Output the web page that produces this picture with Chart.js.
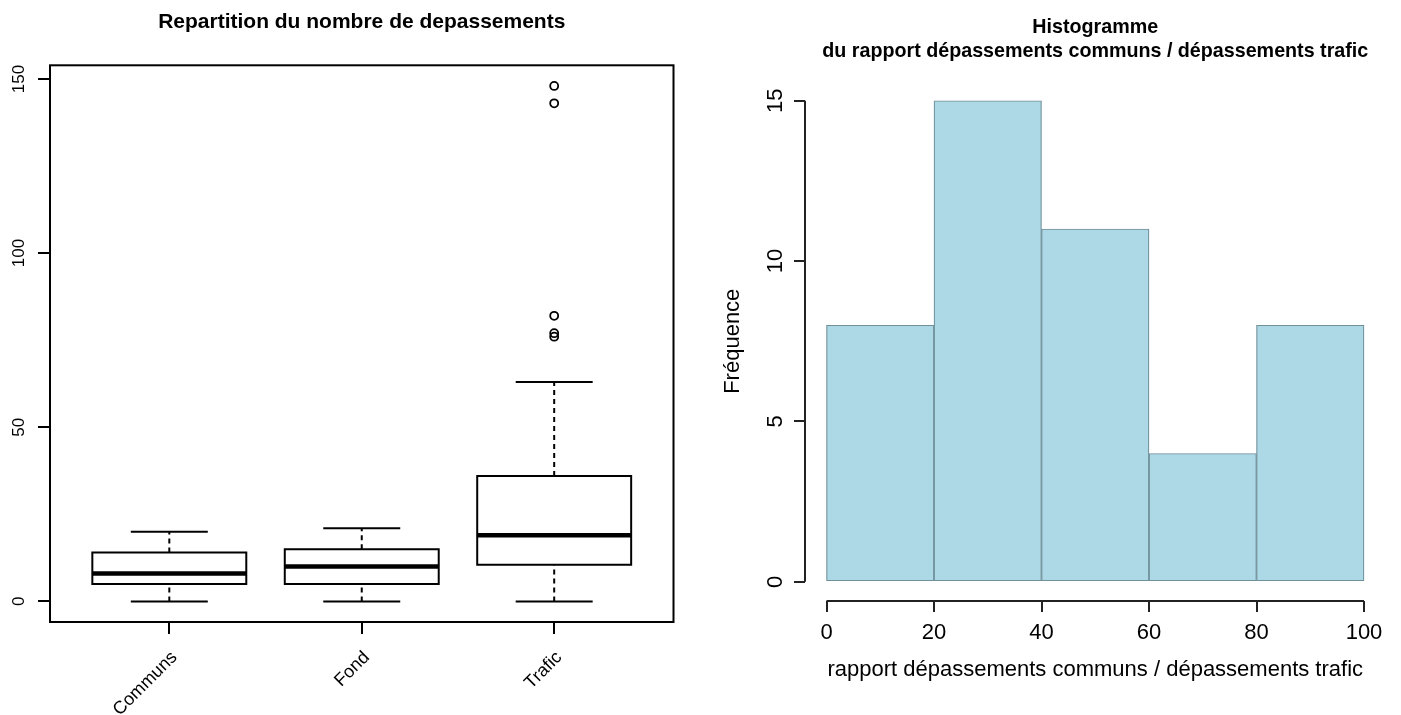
<!DOCTYPE html>
<html>
<head>
<meta charset="utf-8">
<title>Depassements</title>
<script src="https://cdn.jsdelivr.net/npm/chart.js@4.4.0/dist/chart.umd.min.js"></script>
<style>
  html, body { margin: 0; padding: 0; background: #fff; }
  #wrap { position: relative; width: 1401px; height: 715px; overflow: hidden; }
  canvas { position: absolute; top: 0; }
  #boxCanvas { left: 0; }
  #histCanvas { left: 700px; }
</style>
</head>
<body>
<div id="wrap">
  <canvas id="boxCanvas" width="700" height="715"></canvas>
  <canvas id="histCanvas" width="701" height="715"></canvas>
</div>
<script>
// left panel: boxplot summaries
const groups = ['Communs', 'Fond', 'Trafic'];
const whiskerLow = [0, 0, 0];
const q1 = [5, 5, 10.5];
const medians = [8, 10, 19];
const q3 = [14, 15, 36];
const whiskerHigh = [20, 21, 63];
const outliers = [[], [], [76, 77, 82, 143, 148]];
const boxTicks = [0, 50, 100, 150];

// right panel: histogram
const breaks = [0, 20, 40, 60, 80, 100];
const counts = [8, 15, 11, 4, 8];
const histTicks = [0, 5, 10, 15];

Chart.defaults.font.family = '"Liberation Sans", Arial, Helvetica, sans-serif';
Chart.defaults.color = '#000';

// R style range: data range + 4% each side
function rRange(lo, hi) {
  const d = (hi - lo) * 0.04;
  return [lo - d, hi + d];
}

const allBoxValues = whiskerLow.concat(whiskerHigh, outliers.flat());
const [boxYMin, boxYMax] = rRange(Math.min(...allBoxValues), Math.max(...allBoxValues));
const [boxXMin, boxXMax] = rRange(0.5, groups.length + 0.5);
const [histXMin, histXMax] = rRange(breaks[0], breaks[breaks.length - 1]);
const [histYMin, histYMax] = rRange(0, Math.max(...counts));

// boxplot drawn as line segments on a scatter chart
const boxDatasets = [];
const seg = (pts, extra) => Object.assign({
  data: pts, showLine: true, borderColor: '#000', borderWidth: 2,
  pointRadius: 0, fill: false, tension: 0, borderCapStyle: 'square', borderJoinStyle: 'miter'
}, extra);

groups.forEach((g, i) => {
  const x = i + 1;
  const hw = 0.4;   // box half width
  const cw = 0.2;   // staple half width
  boxDatasets.push(seg([{x: x, y: whiskerLow[i]}, {x: x, y: q1[i]}], {borderDash: [5, 4], borderCapStyle: 'butt'}));
  boxDatasets.push(seg([{x: x, y: q3[i]}, {x: x, y: whiskerHigh[i]}], {borderDash: [5, 4], borderCapStyle: 'butt'}));
  boxDatasets.push(seg([{x: x - cw, y: whiskerLow[i]}, {x: x + cw, y: whiskerLow[i]}], {borderCapStyle: 'butt'}));
  boxDatasets.push(seg([{x: x - cw, y: whiskerHigh[i]}, {x: x + cw, y: whiskerHigh[i]}], {borderCapStyle: 'butt'}));
  boxDatasets.push(seg([
    {x: x - hw, y: q1[i]}, {x: x + hw, y: q1[i]}, {x: x + hw, y: q3[i]},
    {x: x - hw, y: q3[i]}, {x: x - hw, y: q1[i]}
  ]));
  boxDatasets.push(seg([{x: x - hw, y: medians[i]}, {x: x + hw, y: medians[i]}], {borderWidth: 4.5, borderCapStyle: 'butt'}));
});

boxDatasets.push({
  data: outliers.flatMap((arr, i) => arr.map(v => ({x: i + 1, y: v}))),
  showLine: false, pointRadius: 4, pointBorderWidth: 1.8,
  pointBackgroundColor: 'rgba(0,0,0,0)', pointBorderColor: '#000', pointStyle: 'circle'
});

const framePlugin = {
  id: 'frame',
  afterDraw(chart) {
    const a = chart.chartArea;
    const ctx = chart.ctx;
    ctx.save();
    ctx.strokeStyle = '#000';
    ctx.lineWidth = 2;
    ctx.strokeRect(a.left, a.top, a.right - a.left, a.bottom - a.top);
    ctx.restore();
  }
};

new Chart(document.getElementById('boxCanvas'), {
  type: 'scatter',
  data: { datasets: boxDatasets },
  options: {
    responsive: false,
    animation: false,
    devicePixelRatio: 1,
    events: [],
    layout: { padding: { left: 0, right: 26.5, top: 0, bottom: 0 } },
    plugins: {
      legend: { display: false },
      tooltip: { enabled: false },
      title: {
        display: true,
        fullSize: false,
        text: 'Repartition du nombre de depassements',
        color: '#000',
        font: { size: 21, weight: 'bold' },
        padding: { top: 10, bottom: 30.1 }
      }
    },
    scales: {
      x: {
        type: 'linear', min: boxXMin, max: boxXMax, offset: false,
        afterBuildTicks: s => { s.ticks = groups.map((g, i) => ({value: i + 1})); },
        afterFit: s => { s.height = 93; },
        grid: { drawOnChartArea: false, drawTicks: true, tickLength: 12, color: '#000', lineWidth: 2 },
        border: { display: false },
        ticks: {
          callback: v => groups[Math.round(v) - 1],
          minRotation: 45, maxRotation: 45, autoSkip: false,
          padding: 13, labelOffset: 5, color: '#000', font: { size: 18 }
        }
      },
      y: {
        type: 'linear', min: boxYMin, max: boxYMax,
        afterBuildTicks: s => { s.ticks = boxTicks.map(v => ({value: v})); },
        afterFit: s => { s.width = 50; },
        grid: { drawOnChartArea: false, drawTicks: true, tickLength: 12, color: '#000', lineWidth: 2 },
        border: { display: false },
        ticks: {
          minRotation: 90, maxRotation: 90, crossAlign: 'center',
          padding: 5, color: '#000', font: { size: 17 }
        }
      }
    }
  },
  plugins: [framePlugin]
});

// R draws the histogram axes only between the first and last tick
const histAxesPlugin = {
  id: 'histAxes',
  afterDraw(chart) {
    const {ctx, chartArea: a, scales: {x, y}} = chart;
    ctx.save();
    ctx.strokeStyle = '#222';
    ctx.lineWidth = 2;
    ctx.beginPath();
    ctx.moveTo(a.left, y.getPixelForValue(histTicks[0]));
    ctx.lineTo(a.left, y.getPixelForValue(histTicks[histTicks.length - 1]));
    ctx.moveTo(x.getPixelForValue(breaks[0]), a.bottom);
    ctx.lineTo(x.getPixelForValue(breaks[breaks.length - 1]), a.bottom);
    ctx.stroke();
    ctx.restore();
  }
};

new Chart(document.getElementById('histCanvas'), {
  type: 'bar',
  data: {
    datasets: [{
      data: counts.map((c, i) => ({x: (breaks[i] + breaks[i + 1]) / 2, y: c})),
      backgroundColor: '#add8e6',
      borderColor: '#6f8f99',
      borderWidth: 1.2,
      borderSkipped: false,
      barPercentage: 1,
      categoryPercentage: 1
    }]
  },
  options: {
    responsive: false,
    animation: false,
    devicePixelRatio: 1,
    events: [],
    layout: { padding: { left: 0, right: 15.5, top: 0, bottom: 0 } },
    plugins: {
      legend: { display: false },
      tooltip: { enabled: false },
      title: {
        display: true,
        fullSize: false,
        text: ['Histogramme', 'du rapport dépassements communs / dépassements trafic'],
        color: '#000',
        font: { size: 19.7, weight: 'bold', lineHeight: 1.2 },
        padding: { top: 16, bottom: 18.2 }
      }
    },
    scales: {
      x: {
        type: 'linear', min: histXMin, max: histXMax, offset: false,
        afterBuildTicks: s => { s.ticks = breaks.map(v => ({value: v})); },
        afterFit: s => { s.height = 114; },
        grid: { offset: false, drawOnChartArea: false, drawTicks: true, tickLength: 11, color: '#222', lineWidth: 2 },
        border: { display: false },
        ticks: { padding: 8, maxRotation: 0, autoSkip: false, color: '#000', font: { size: 22 } },
        title: {
          display: true,
          text: 'rapport dépassements communs / dépassements trafic',
          color: '#000',
          font: { size: 22 },
          padding: { top: 0, bottom: 31.5 }
        }
      },
      y: {
        type: 'linear', min: histYMin, max: histYMax,
        afterBuildTicks: s => { s.ticks = histTicks.map(v => ({value: v})); },
        afterFit: s => { s.width = 105; },
        grid: { drawOnChartArea: false, drawTicks: true, tickLength: 11, color: '#222', lineWidth: 2 },
        border: { display: false },
        ticks: {
          minRotation: 90, maxRotation: 90, crossAlign: 'center',
          padding: 6, color: '#000', font: { size: 22 }
        },
        title: {
          display: true,
          text: 'Fréquence',
          color: '#000',
          font: { size: 22 },
          padding: { top: 20, bottom: 0 }
        }
      }
    }
  },
  plugins: [histAxesPlugin]
});
</script>
</body>
</html>
